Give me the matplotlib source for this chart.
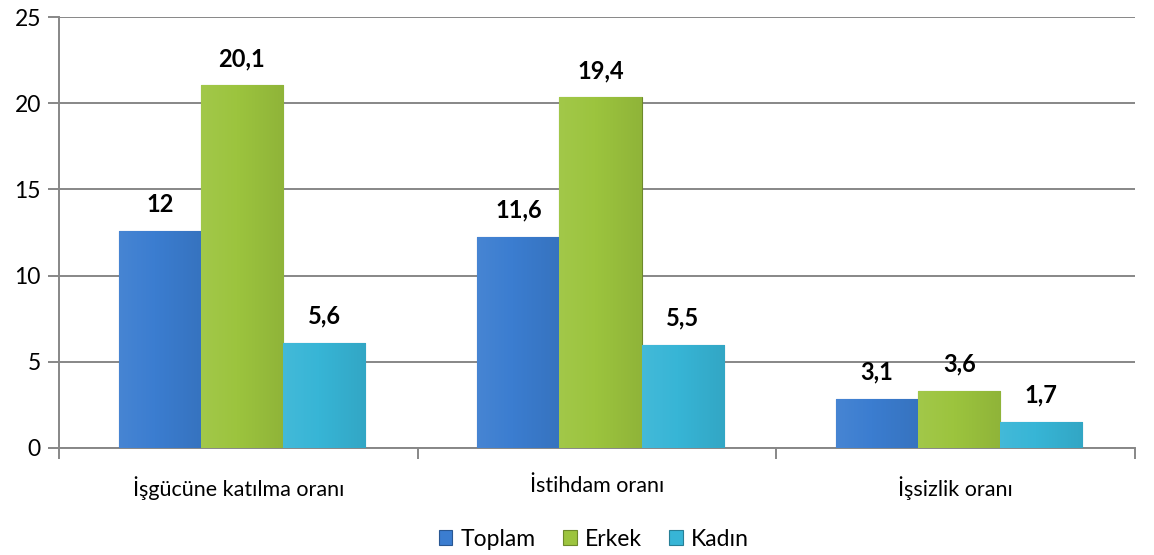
import numpy as np
import matplotlib.pyplot as plt
import matplotlib.colors as mcolors
from matplotlib.ticker import FixedLocator

plt.rcParams['font.family'] = ['Lato', 'DejaVu Sans']

categories = ['İşgücüne katılma oranı', 'İstihdam oranı', 'İşsizlik oranı']
series = ['Toplam', 'Erkek', 'Kadın']
# bar heights as drawn in the picture, and the printed labels
heights = {
    'Toplam': [12.6, 12.25, 2.85],
    'Erkek': [21.05, 20.35, 3.3],
    'Kadın': [6.1, 5.97, 1.52],
}
labels = {
    'Toplam': ['12', '11,6', '3,1'],
    'Erkek': ['20,1', '19,4', '3,6'],
    'Kadın': ['5,6', '5,5', '1,7'],
}
colors = {'Toplam': '#3b7dd0', 'Erkek': '#9cc43e', 'Kadın': '#37b5d6'}
GRID = '#878787'

def shade(c, f):
    r, g, b = mcolors.to_rgb(c)
    if f > 1:
        return (r + (1 - r) * (f - 1), g + (1 - g) * (f - 1), b + (1 - b) * (f - 1))
    return (r * f, g * f, b * f)

fig = plt.figure(figsize=(11.54, 5.55), dpi=100)
ax = fig.add_axes([0.0511, 0.193, 0.9324, 0.776])

x = np.arange(len(categories))
w = 0.229
for i, s in enumerate(series):
    pos = x + (i - 1) * w + 0.01
    bars = ax.bar(pos, heights[s], w, color=colors[s], edgecolor=shade(colors[s], 0.7),
                  linewidth=0.8, zorder=3, label=s)
    for b, txt in zip(bars, labels[s]):
        x0, y0 = b.get_x(), b.get_y()
        bw, bh = b.get_width(), b.get_height()
        # soft gradient for a bevelled look
        grad = np.linspace(0, 1, 64)
        prof = 1.06 - 0.14 * grad
        img = np.array([[shade(colors[s], p) for p in prof]])
        im = ax.imshow(img, extent=(x0, x0 + bw, y0, y0 + bh), aspect='auto',
                       zorder=3.5, interpolation='bilinear')
        im.set_clip_path(b)
        ax.annotate(txt, (x0 + bw / 2, bh), xytext=(0, 11), textcoords='offset points',
                    ha='center', va='bottom', fontsize=17, fontweight='bold', color='black',
                    zorder=5)

ax.set_xlim(-0.5, 2.5)
ax.set_ylim(0, 25)
ax.set_yticks([0, 5, 10, 15, 20, 25])
ax.yaxis.grid(True, color=GRID, linewidth=1.4, zorder=0)
ax.set_axisbelow(True)
ax.set_xticks(x)
ax.set_xticklabels(categories, fontsize=15.5)
ax.xaxis.set_minor_locator(FixedLocator([-0.5, 0.5, 1.5, 2.5]))
ax.tick_params(axis='x', which='major', length=0, pad=20)
ax.tick_params(axis='x', which='minor', length=8, color=GRID, width=1.4)
ax.tick_params(axis='y', length=8, color=GRID, width=1.4, labelsize=16.5, pad=5)
for side in ['top', 'right']:
    ax.spines[side].set_visible(False)
for side in ['left', 'bottom']:
    ax.spines[side].set_color(GRID)
    ax.spines[side].set_linewidth(1.4)

leg = ax.legend(loc='center', bbox_to_anchor=(0.497, -0.212), ncol=3, frameon=False,
                fontsize=16.5, handlelength=0.6, handleheight=0.6, handletextpad=0.35,
                columnspacing=1.2, borderpad=0)

fig.savefig('out.png', dpi=100)
